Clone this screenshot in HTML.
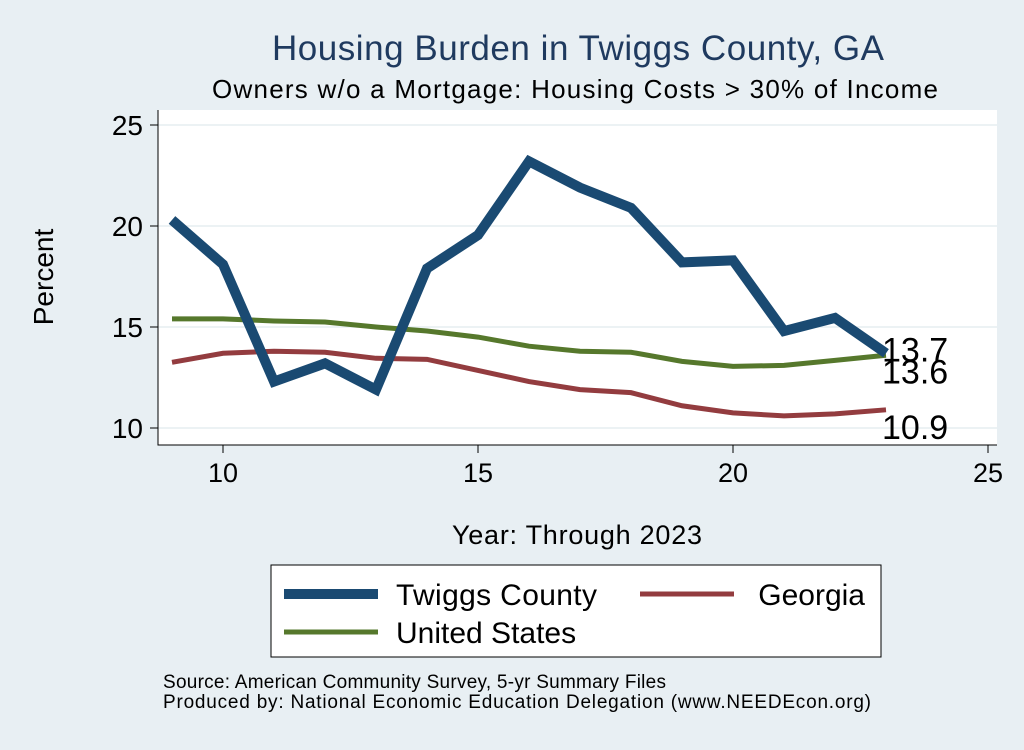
<!DOCTYPE html>
<html><head><meta charset="utf-8"><style>
body{margin:0;background:#e8eff3;font-family:"Liberation Sans",sans-serif}
</style></head><body>
<svg id="c" width="1024" height="745" xmlns="http://www.w3.org/2000/svg">
<rect width="1024" height="745" fill="#e8eff3"/>
<text x="578" y="60" font-size="35" fill="#1f3a5f" text-anchor="middle" textLength="612">Housing Burden in Twiggs County, GA</text>
<text x="575" y="98" font-size="26" fill="#000" text-anchor="middle" textLength="726">Owners w/o a Mortgage: Housing Costs &gt; 30% of Income</text>
<rect x="158" y="110" width="839" height="335" fill="#fff"/>
<g id="grid"></g><g id="axes"></g><g id="series"></g>
<text x="53" y="277" font-size="28" transform="rotate(-90 53 277)" text-anchor="middle">Percent</text>
<text x="577" y="544" font-size="27" text-anchor="middle" textLength="250">Year: Through 2023</text>
<g>
<rect x="271" y="565" width="610" height="92" fill="#fff" stroke="#000" stroke-width="1"/>
<line x1="284" y1="594" x2="378" y2="594" stroke="#1a4a72" stroke-width="10"/>
<text x="396" y="605" font-size="30" textLength="201">Twiggs County</text>
<line x1="640" y1="594" x2="734" y2="594" stroke="#933c3f" stroke-width="5"/>
<text x="865" y="605" font-size="30" text-anchor="end">Georgia</text>
<line x1="284" y1="632" x2="378" y2="632" stroke="#56782c" stroke-width="5"/>
<text x="396" y="643" font-size="30">United States</text>
</g>
<text x="163" y="688" font-size="19" textLength="503">Source: American Community Survey, 5-yr Summary Files</text>
<text x="163" y="708" font-size="19" textLength="708">Produced by: National Economic Education Delegation (www.NEEDEcon.org)</text>
</svg>
<script>
const years=[9,10,11,12,13,14,15,16,17,18,19,20,21,22,23];
const twiggs=[20.3,18.1,12.3,13.2,11.9,17.9,19.55,23.2,21.9,20.9,18.2,18.3,14.8,15.45,13.7];
const us=[15.4,15.4,15.3,15.25,15.0,14.8,14.5,14.05,13.8,13.75,13.3,13.05,13.1,13.35,13.6];
const georgia=[13.25,13.7,13.8,13.75,13.45,13.4,12.85,12.3,11.9,11.75,11.1,10.75,10.6,10.7,10.9];
const xTicks=[10,15,20,25];
const yTicks=[10,15,20,25];
const NS="http://www.w3.org/2000/svg";
const X=v=>223+(v-10)*51;
const Y=v=>428-(v-10)*20.2;
function mk(t,a,p){const e=document.createElementNS(NS,t);for(const k in a)e.setAttribute(k,a[k]);document.getElementById(p).appendChild(e);return e;}
yTicks.forEach(t=>{
 const g=mk('line',{x1:158,x2:997,y1:Y(t),y2:Y(t),stroke:'#e6eef1','stroke-width':1.5},'grid');
 
 
 const k=mk('line',{x1:150,x2:158,y1:Y(t),y2:Y(t),stroke:'#000'},'axes');
 
 
 const l=mk('text',{x:143,y:Y(t)+10,'font-size':28,'text-anchor':'end'},'axes');l.textContent=t;
 
 
});
xTicks.forEach(t=>{
 const k=mk('line',{x1:X(t),x2:X(t),y1:445,y2:453,stroke:'#000'},'axes');
 
 
 const l=mk('text',{x:X(t),y:482,'font-size':27,'text-anchor':'middle'},'axes');l.textContent=t;
 
 
});
const ax=mk('path',{d:'M158 110 V445 H997',fill:'none',stroke:'#000'},'axes');


function line(vals,col,w,name){
 const p=mk('polyline',{points:years.map((y,i)=>X(y)+','+Y(vals[i])).join(' '),fill:'none',stroke:col,'stroke-width':w,'stroke-linejoin':'miter'},'series');
 
 
}
line(georgia,'#933c3f',5,'georgia-line');
line(us,'#56782c',5,'us-line');
line(twiggs,'#1a4a72',10,'twiggs-line');
const last=years.length-1;
[[twiggs,-4,'twiggs-end-label'],[us,16,'us-end-label'],[georgia,17,'georgia-end-label']].forEach(([v,dy,n])=>{
 const t=mk('text',{x:X(years[last])-4,y:Y(v[last])+dy+12,'font-size':34},'series');t.textContent=v[last].toFixed(1);
 
 
});
</script>
</body></html>
